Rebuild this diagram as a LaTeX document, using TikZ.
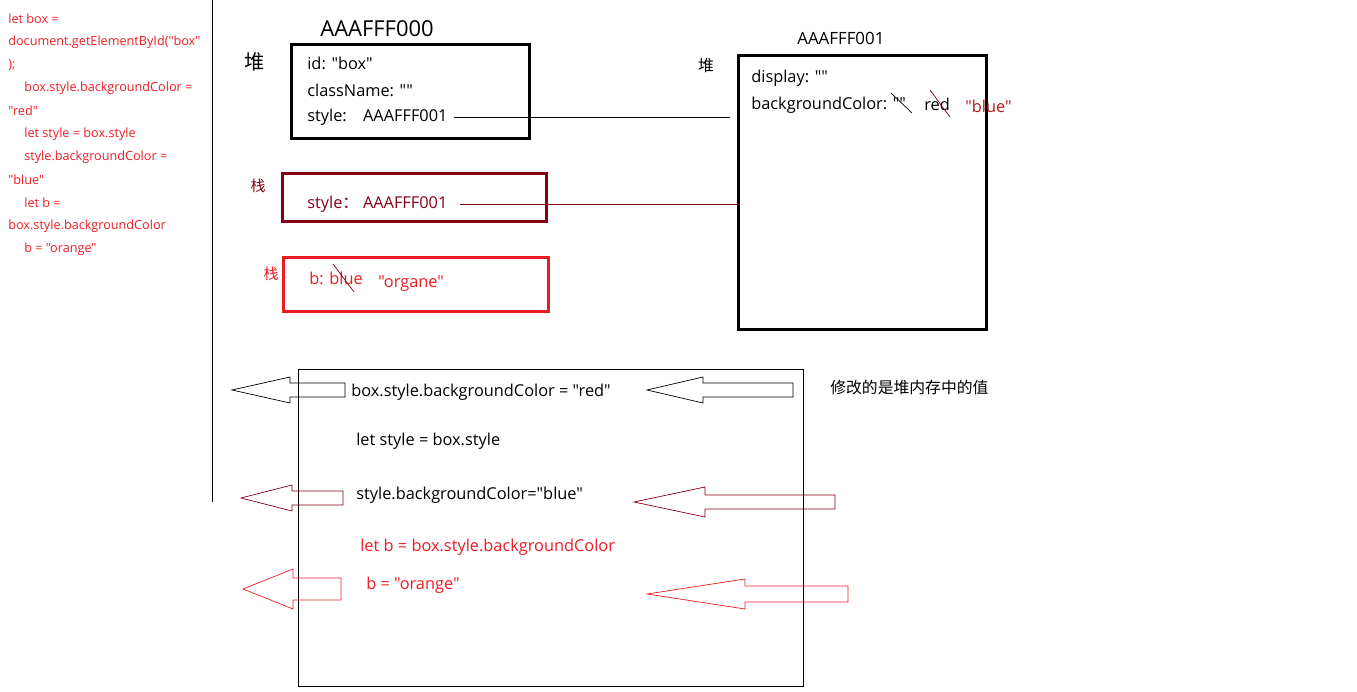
\documentclass[tikz,border=0pt]{standalone}
\usepackage{fontspec}
\setmainfont{Open Sans}[Ligatures=TeXOff]
\newfontfamily\cjk{Noto Sans CJK SC}
\usetikzlibrary{positioning}
\definecolor{paintred}{rgb}{0.93,0.11,0.14}
\definecolor{darkred}{rgb}{0.53,0.0,0.08}
\definecolor{bluered}{rgb}{0.72,0.09,0.1}

% block arrow pointing left: colour, tip x, y, head x, head half, tail half, tail x
\newcommand{\leftblock}[7]{%
  \draw[#1] (#2,#3) -- (#4,#3-#5) -- (#4,#3-#6) -- (#7,#3-#6) -- (#7,#3+#6)
    -- (#4,#3+#6) -- (#4,#3+#5) -- cycle;}

\begin{document}
\begin{tikzpicture}[x=0.02cm,y=-0.02cm,
  txt/.style={anchor=west,inner sep=0pt,yshift=-0.04cm,font=\fontsize{9.3}{11}\selectfont},
  codetxt/.style={anchor=west,inner sep=0pt,text=paintred,font=\fontsize{7.2}{8}\selectfont},
  membox/.style={draw,line width=1.7pt,anchor=north west,inner sep=0pt},
  hanzi/.style={inner sep=0pt,font=\cjk\fontsize{#1}{#1}\selectfont},
  hanzi/.default=9]
  \useasboundingbox (0,0) rectangle (1357,692);
  % source code on the left
  \foreach \yy/\xx/\txt [count=\i] in {19/8/{let box =},42/8/{document.getElementById("box"},
      65/8/{);},88/24/{box.style.backgroundColor =},111/8/{"red"},134/24/{let style = box.style},
      157/24/{style.backgroundColor =},180/8/{"blue"},203/24/{let b =},
      226/8/{box.style.backgroundColor},249/24/{b = "orange"}}
    \node[codetxt] (code\i) at (\xx,\yy) {\txt};
  \draw (212,0) -- (212,502);

  % heap object AAAFFF000
  \node[txt,font=\fontsize{12.5}{14}\selectfont] (addrA) at (320,27) {AAAFFF000};
  \node[hanzi=11.5] (heapA) at (255,62) {堆};
  \node[membox,minimum width=4.76cm,minimum height=1.88cm] (boxobj) at (290,43) {};
  \node[txt] (boxid) at (307,61) {id: "box"};
  \node[txt] (boxclass) at (307,88) {className: ""};
  \node[txt] (boxstyle) at (307,115) {style:\quad AAAFFF001};

  % heap object AAAFFF001
  \node[txt,font=\fontsize{9.6}{11}\selectfont] (addrB) at (797,36) {AAAFFF001};
  \node[hanzi] (heapB) at (706,66) {堆};
  \node[membox,minimum width=4.96cm,minimum height=5.48cm] (styleobj) at (737,54) {};
  \node[txt] (display) at (751,76) {display: ""};
  \node[txt] (bgcolor) at (751,103) {backgroundColor: ""};
  \node[txt] (bgred) at (924,102) {red};
  \node[txt,text=bluered] (bgblue) at (965,104) {"blue"};
  \draw (891,93) -- (912,113);
  \draw[darkred] (930,90) -- (950,117);

  % stack variable style
  \node[hanzi=8.5,text=darkred] (stackA) at (258,186) {栈};
  \node[membox,draw=darkred,minimum width=5.28cm,minimum height=0.96cm] (stylevar) at (281,172) {};
  \node[txt,text=darkred] (stackstyle) at (307,202) {style{\cjk ：}\ AAAFFF001};

  % stack variable b
  \node[hanzi=8.5,text=paintred] (stackB) at (271,274) {栈};
  \node[membox,draw=paintred,minimum width=5.3cm,minimum height=1.08cm] (bvar) at (282,256) {};
  \node[txt,text=paintred] (bblue) at (309,276) {b: blue};
  \node[txt,text=paintred] (borange) at (378,282) {"organe"};
  \draw[darkred] (333,264) -- (354,292);

  % references
  \draw ([xshift=0.12cm]boxstyle.east) -- ([xshift=-0.14cm]boxstyle.east -| styleobj.west);
  \draw[darkred] ([xshift=0.24cm]stackstyle.east) -- (stackstyle.east -| styleobj.west);

  % steps
  \node[draw,anchor=north west,inner sep=0pt,minimum width=10.1cm,minimum height=6.34cm] (steps) at (298,369) {};
  \node[txt] (step1) at (351,390) {box.style.backgroundColor = "red"};
  \node[txt] (step2) at (356,439) {let style = box.style};
  \node[txt] (step3) at (356,493) {style.backgroundColor="blue"};
  \node[txt,text=paintred] (step4) at (360,545) {let b = box.style.backgroundColor};
  \node[txt,text=paintred] (step5) at (366,583) {b = "orange"};
  \node[hanzi,anchor=west] (note) at (830,387) {修改的是堆内存中的值};

  \leftblock{black}{232}{390}{290}{13}{7}{345}
  \leftblock{black}{647}{390}{703}{13}{7}{793}
  \leftblock{darkred}{241}{498}{292}{13}{7}{343}
  \leftblock{darkred}{634}{502}{705}{15}{7}{835}
  \leftblock{paintred}{243}{589}{293}{20}{11}{341}
  \leftblock{paintred}{647}{594}{745}{15}{8}{848}
\end{tikzpicture}
\end{document}
